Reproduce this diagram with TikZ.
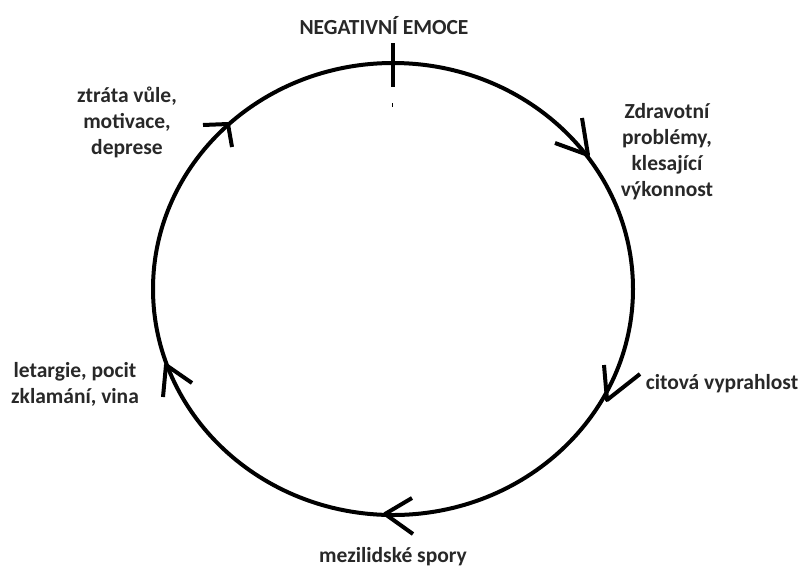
\documentclass[tikz,border=0pt]{standalone}
\usepackage{fontspec}
\setmainfont{Carlito}
\usetikzlibrary{shapes.geometric}
\definecolor{txt}{RGB}{40,40,40}
\tikzset{
  lbl/.style={text=txt, font=\fontsize{21.5}{26}\selectfont\bfseries, align=center, inner sep=0pt},
  barb/.style={line width=4pt, line join=round, line cap=butt},
  cyc/.style={draw, ellipse, line width=4pt, inner sep=0pt, outer sep=0pt, minimum width=480pt, minimum height=452pt}
}
\begin{document}
\begin{tikzpicture}[x=1pt,y=-1pt]
\useasboundingbox (0,0) rectangle (808,571);
\node[cyc] (ring) at (393,289) {};
% top tick
\coordinate (tk1) at (393,43);
\coordinate (tk2) at (393,87);
\draw[barb] (tk1) -- (tk2);
\fill (391.5,102.5) rectangle (393,106.5);
% arrow marks (clockwise)
\coordinate (a1) at (588,155); \coordinate (a1l) at (582,118); \coordinate (a1r) at (555,143);
\coordinate (a2) at (607,400); \coordinate (a2l) at (604,365); \coordinate (a2r) at (640,374);
\coordinate (a3) at (385,514); \coordinate (a3l) at (412,498); \coordinate (a3r) at (413,534);
\coordinate (a4) at (166,365); \coordinate (a4l) at (163,397); \coordinate (a4r) at (192,383);
\coordinate (a5) at (228,124); \coordinate (a5l) at (203,125); \coordinate (a5r) at (232,147);
\foreach \i in {1,...,5} {\draw[barb] (a\i l) -- (a\i) -- (a\i r);}
% labels
\node[lbl] (neg) at (384,26) {NEGATIVNÍ EMOCE};
\node[lbl] (zdr) at (667,152) {Zdravotní\\problémy,\\klesající\\výkonnost};
\node[lbl] (cit) at (722,384) {citová vyprahlost};
\node[lbl] (mez) at (393,557) {mezilidské spory};
\node[lbl] (let) at (75,384) {letargie, pocit\\zklamání, vina};
\node[lbl] (ztr) at (127,122) {ztráta vůle,\\motivace,\\deprese};
\end{tikzpicture}
\end{document}
